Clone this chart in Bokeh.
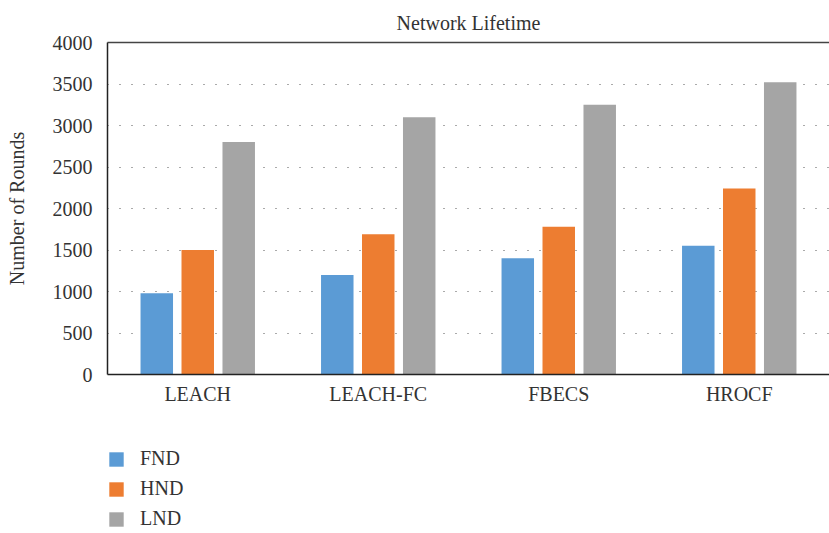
from bokeh.plotting import figure
from bokeh.layouts import column
from bokeh.models import FactorRange, Legend, LegendItem, CategoricalAxis, SingleIntervalTicker, ColumnDataSource
from bokeh.transform import dodge
from bokeh.embed import file_html
from bokeh.resources import INLINE

categories = ["LEACH", "LEACH-FC", "FBECS", "HROCF"]
fnd = [980, 1200, 1400, 1550]
hnd = [1500, 1690, 1780, 2240]
lnd = [2800, 3100, 3250, 3520]
series_names = ["FND", "HND", "LND"]
colors = ["#5B9BD5", "#ED7D31", "#A5A5A5"]

FONT = "Liberation Serif"
TXT = "#333333"
FS = "20px"

src = ColumnDataSource(dict(cat=categories, FND=fnd, HND=hnd, LND=lnd))

p = figure(frame_width=722, frame_height=332, x_range=FactorRange(*categories), y_range=(0, 4000),
           output_backend="svg", toolbar_location=None,
           title="Network Lifetime", min_border_left=107, min_border_right=0,
           min_border_top=42, min_border_bottom=36)

p.title.text_font = FONT
p.title.text_font_size = "20px"
p.title.text_font_style = "normal"
p.title.text_color = TXT
p.title.align = "center"
p.title.offset = 6
p.title.standoff = 18

offsets = [-0.227, 0.0, 0.227]
for name, col, off in zip(series_names, colors, offsets):
    p.vbar(x=dodge("cat", off, range=p.x_range), top=name, width=0.18, source=src,
           fill_color=col, line_color=None)

p.outline_line_color = None
p.xgrid.grid_line_color = None
p.ygrid.grid_line_color = "#555555"
p.ygrid.grid_line_dash = "1 11"
p.ygrid.grid_line_width = 1

p.yaxis.ticker = SingleIntervalTicker(interval=500)
p.yaxis.minor_tick_line_color = None
p.yaxis.major_tick_in = 0
p.yaxis.major_tick_out = 0
p.yaxis.major_label_standoff = 11
p.yaxis.axis_label = "Number of Rounds"
p.yaxis.axis_label_standoff = 22
p.yaxis.axis_label_text_font_style = "normal"

p.xaxis.major_tick_in = 0
p.xaxis.major_tick_out = 0
p.xaxis.major_label_standoff = 8

for ax in [p.xaxis[0], p.yaxis[0]]:
    ax.axis_line_color = "#222222"
    ax.axis_line_width = 1.5
    ax.major_label_text_font = FONT
    ax.major_label_text_font_size = FS
    ax.major_label_text_color = TXT
    ax.axis_label_text_font = FONT
    ax.axis_label_text_font_size = FS
    ax.axis_label_text_color = TXT

top_axis = CategoricalAxis(axis_line_color="#444444", axis_line_width=1.5,
                           major_tick_in=0, major_tick_out=0,
                           major_label_text_color=None, major_label_standoff=0,
                           major_label_text_font_size="1px")
p.add_layout(top_axis, "above")

# legend panel below the chart
p2 = figure(width=829, height=123, x_range=FactorRange(*categories), y_range=(0, 4000),
            output_backend="svg", toolbar_location=None,
            min_border_left=0, min_border_right=0, min_border_top=0, min_border_bottom=0)
p2.axis.visible = False
p2.grid.visible = False
p2.outline_line_color = None
leg_renderers = []
for name, col, off in zip(series_names, colors, offsets):
    r = p2.vbar(x=dodge("cat", off, range=p2.x_range), top=name, width=0.18, source=src,
                fill_color=col, line_color=None)
    r.visible = False
    leg_renderers.append(r)

legend = Legend(items=[LegendItem(label=n, renderers=[r]) for n, r in zip(series_names, leg_renderers)],
                orientation="vertical", location=(0, 3))
legend.label_text_font = FONT
legend.label_text_font_size = FS
legend.label_text_color = TXT
legend.glyph_width = 18
legend.glyph_height = 18
legend.label_height = 18
legend.spacing = 7
legend.label_standoff = 15
legend.border_line_color = None
legend.background_fill_alpha = 0
legend.inactive_fill_alpha = 0
legend.padding = 0
legend.margin = 0
legend.click_policy = "none"
p2.add_layout(legend)

layout = column(p, p2, spacing=0)
open("out.html", "w").write(file_html(layout, INLINE))
